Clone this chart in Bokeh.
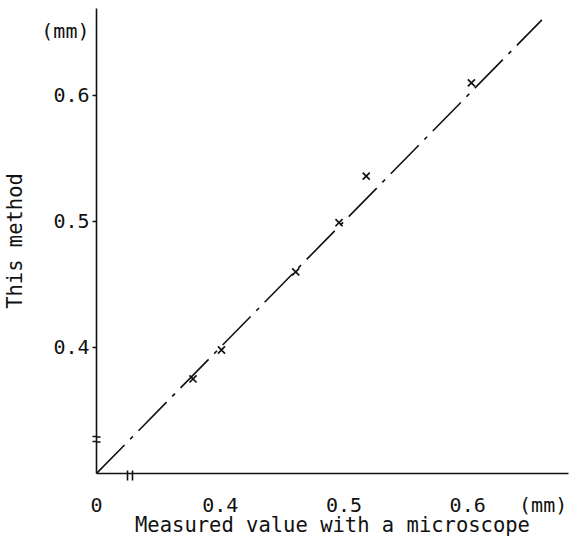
from bokeh.plotting import figure
from bokeh.models import Range1d, FixedTicker
from bokeh.embed import file_html
from bokeh.resources import INLINE

# ---- data ----
x_measured = [0.378, 0.401, 0.461, 0.496, 0.518, 0.603]   # microscope (mm)
y_method = [0.375, 0.398, 0.460, 0.499, 0.536, 0.610]     # this method (mm)
fit_x = [0.30, 0.66]
fit_y = [0.30, 0.66]
x_ticks = [0.4, 0.5, 0.6]
y_ticks = [0.4, 0.5, 0.6]
origin = 0.3                 # broken axes: the corner stands for 0
origin_label = "0"
unit_label = "(mm)"
x_unit_pos = 0.661           # where the "(mm)" text sits on each axis
y_unit_pos = 0.6508
x_breaks = [0.325, 0.329]    # axis-break strokes
y_breaks = [0.325, 0.329]
x_max = 0.6815
y_max = 0.669

FONT = "DejaVu Sans Mono"
FS = "20px"
INK = "#111111"
BREAK_HALF = 0.0033          # inner half-length of y break strokes (data units)

p = figure(width=575, height=552, output_backend="svg", toolbar_location=None,
           x_range=Range1d(origin, x_max), y_range=Range1d(origin, y_max),
           min_border_left=95, min_border_right=7, min_border_top=8,
           min_border_bottom=79)
p.outline_line_color = None
p.grid.visible = False

# ---- x axis ----
xa = p.xaxis[0]
xa.ticker = FixedTicker(ticks=[origin] + x_ticks + [x_unit_pos], minor_ticks=x_breaks)
xa.major_label_overrides = {origin: origin_label, x_unit_pos: unit_label}
xa.major_tick_out = 0
xa.major_tick_in = 0
xa.minor_tick_out = 7
xa.minor_tick_in = 3
xa.minor_tick_line_width = 1.6
xa.minor_tick_line_color = INK
xa.major_label_standoff = 12
xa.axis_line_width = 1.6
xa.axis_line_color = INK
xa.major_label_text_font = FONT
xa.major_label_text_font_size = FS
xa.major_label_text_color = INK
xa.axis_label = "Measured value with a microscope"
xa.axis_label_text_font = FONT
xa.axis_label_text_font_size = "20.5px"
xa.axis_label_text_font_style = "normal"
xa.axis_label_text_color = INK
xa.axis_label_standoff = -7

# ---- y axis ----
ya = p.yaxis[0]
ya.ticker = FixedTicker(ticks=y_ticks + [y_unit_pos], minor_ticks=y_breaks + y_ticks)
ya.major_label_overrides = {y_unit_pos: unit_label}
ya.major_tick_out = 0
ya.major_tick_in = 0
ya.minor_tick_out = 4
ya.minor_tick_in = 0
ya.minor_tick_line_width = 1.6
ya.minor_tick_line_color = INK
ya.major_label_standoff = 3
ya.axis_line_width = 1.6
ya.axis_line_color = INK
ya.major_label_text_font = FONT
ya.major_label_text_font_size = FS
ya.major_label_text_color = INK
ya.axis_label = "This method"
ya.axis_label_text_font = FONT
ya.axis_label_text_font_size = "20.5px"
ya.axis_label_text_font_style = "normal"
ya.axis_label_text_color = INK
ya.axis_label_standoff = 11

# inner halves of the y-axis break strokes
p.segment(x0=[origin] * len(y_breaks), y0=y_breaks,
          x1=[origin + BREAK_HALF] * len(y_breaks), y1=y_breaks,
          line_color=INK, line_width=1.6)

# dash-dot reference line
p.line(fit_x, fit_y, line_color=INK, line_width=1.6, line_dash="40 8 4 8")

# measured points
p.scatter(x_measured, y_method, marker="x", size=10, line_color=INK, line_width=1.7)

open("out.html", "w").write(file_html(p, INLINE))
